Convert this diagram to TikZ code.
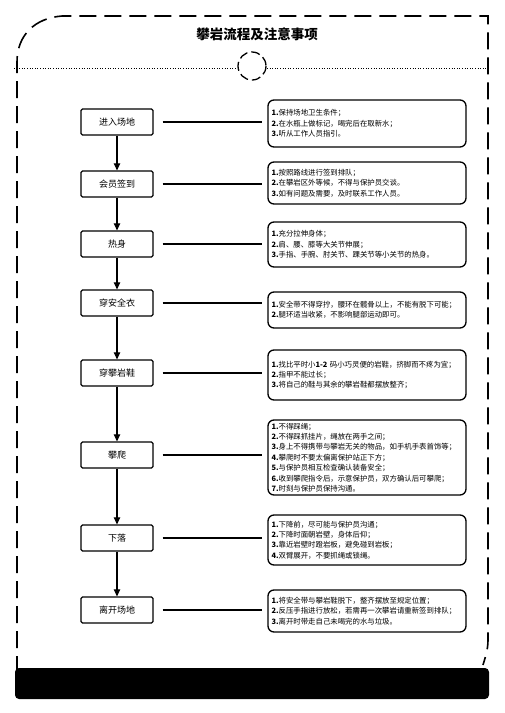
\documentclass[tikz,border=0pt]{standalone}
\usepackage{fontspec}
\newfontfamily\cjk{Noto Sans CJK SC}
\usetikzlibrary{arrows.meta}
\begin{document}
\begin{tikzpicture}[x=1pt,y=-1pt,
  stepbox/.style={draw,line width=1.3pt,minimum width=72pt,minimum height=26pt,inner sep=0pt,font=\cjk\fontsize{9}{10}\selectfont,rounded corners=1.5pt},
  notebox/.style={draw,line width=1.3pt,minimum width=198pt,inner xsep=3.5pt,inner ysep=2pt,text width=191pt,align=left,font=\cjk\fontsize{7.4}{10.4}\selectfont,rounded corners=6pt},
  flow/.style={line width=1.1pt,-{Triangle[length=7pt,width=6.5pt]}},
  link/.style={line width=1.1pt,shorten <=9pt,shorten >=5pt},
  frame/.style={line width=1.6pt,dash pattern=on 17pt off 8pt}]
\useasboundingbox (0,0) rectangle (504,713);
% frame
\draw[frame] (17,673) -- (17,62) .. controls (17,35) and (35,18) .. (62,16) -- (488,16) -- (488,640) .. controls (488,650) and (485,658) .. (483,665);
\node[font=\cjk\bfseries\fontsize{13.5}{15}\selectfont] (title) at (257,34) {攀岩流程及注意事项};
\draw[line width=0.6pt,dotted] (14,68) -- (237,68);
\draw[line width=0.6pt,dotted] (267,68) -- (490,68);
\draw[line width=1.3pt,dash pattern=on 9pt off 4pt] (252,66) circle (14);
\fill[rounded corners=4pt] (15,668) rectangle (489,699);
% steps
\node[stepbox] (b1) at (117,122) {进入场地};
\node[stepbox] (b2) at (117,184) {会员签到};
\node[stepbox] (b3) at (117,244) {热身};
\node[stepbox] (b4) at (117,303) {穿安全衣};
\node[stepbox] (b5) at (117,373) {穿攀岩鞋};
\node[stepbox] (b6) at (117,455) {攀爬};
\node[stepbox] (b7) at (117,538) {下落};
\node[stepbox] (b8) at (117,610) {离开场地};
% notes
\node[notebox,minimum height=47pt] (n1) at (367,123.5) {\textbf{1.}保持场地卫生条件；\\\textbf{2.}在水瓶上做标记，喝完后在取新水；\\\textbf{3.}听从工作人员指引。};
\node[notebox,minimum height=42pt] (n2) at (367,183) {\textbf{1.}按照路线进行签到排队；\\\textbf{2.}在攀岩区外等候，不得与保护员交谈。\\\textbf{3.}如有问题及需要，及时联系工作人员。};
\node[notebox,minimum height=45pt] (n3) at (367,244.5) {\textbf{1.}充分拉伸身体；\\\textbf{2.}肩、腰、膝等大关节伸展；\\\textbf{3.}手指、手腕、肘关节、踝关节等小关节的热身。};
\node[notebox,minimum height=36pt] (n4) at (367,310) {\textbf{1.}安全带不得穿拧，腰环在髋骨以上，不能有脱下可能；\\\textbf{2.}腿环适当收紧，不影响腿部运动即可。};
\node[notebox,minimum height=50pt] (n5) at (367,375) {\textbf{1.}找比平时小\textbf{1-2} 码小巧灵便的岩鞋，挤脚而不疼为宜；\\\textbf{2.}指甲不能过长；\\\textbf{3.}将自己的鞋与其余的攀岩鞋都摆放整齐；};
\node[notebox,minimum height=75pt] (n6) at (367,457.5) {\textbf{1.}不得踩绳；\\\textbf{2.}不得踩抓挂片，绳放在两手之间；\\\textbf{3.}身上不得携带与攀岩无关的物品，如手机手表首饰等；\\\textbf{4.}攀爬时不要太偏离保护站正下方；\\\textbf{5.}与保护员相互检查确认装备安全；\\\textbf{6.}收到攀爬指令后，示意保护员，双方确认后可攀爬；\\\textbf{7.}时刻与保护员保持沟通。};
\node[notebox,minimum height=50pt] (n7) at (367,540) {\textbf{1.}下降前，尽可能与保护员沟通；\\\textbf{2.}下降时面朝岩壁，身体后仰；\\\textbf{3.}靠近岩壁时蹬岩板，避免碰到岩板；\\\textbf{4.}双臂展开，不要抓绳或锁绳。};
\node[notebox,minimum height=42pt] (n8) at (367,611) {\textbf{1.}将安全带与攀岩鞋脱下，整齐摆放至规定位置；\\\textbf{2.}反压手指进行放松，若需再一次攀岩请重新签到排队；\\\textbf{3.}离开时带走自己未喝完的水与垃圾。};
% flow arrows
\foreach \a/\b in {b1/b2,b2/b3,b3/b4,b4/b5,b5/b6,b6/b7,b7/b8}
  \draw[flow] (\a.south) -- (\b.north);
% links
\foreach \i in {1,...,8}
  \draw[link] (b\i.east) -- (b\i.east -| n\i.west);
\end{tikzpicture}
\end{document}
